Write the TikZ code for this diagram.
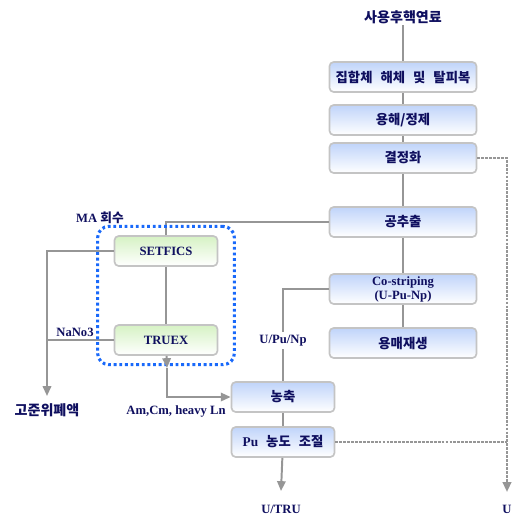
\documentclass[tikz,border=0pt]{standalone}
\usepackage{fontspec}
\setmainfont{Liberation Serif}
\newfontfamily\kr{Noto Sans CJK KR}
\usepackage{tikz}
\usetikzlibrary{arrows.meta, positioning, fit}
\definecolor{navytext}{RGB}{15,15,95}
\definecolor{boxblue}{RGB}{192,212,250}
\definecolor{boxgreen}{RGB}{214,242,196}
\definecolor{linegray}{RGB}{150,150,150}
\definecolor{bordergray}{RGB}{196,196,196}
\definecolor{dotblue}{RGB}{25,105,250}
\newcommand{\gap}{\hspace{0.6em}}
\tikzset{
  bxB/.style={draw=bordergray, top color=boxblue, bottom color=white, rounded corners=3pt,
              minimum width=#1, minimum height=0.75cm, align=center, inner sep=1pt,
              text=navytext, font=\kr\fontsize{9.5}{10}\selectfont\bfseries, line width=1.2pt},
  bxG/.style={draw=bordergray, top color=boxgreen, bottom color=white, rounded corners=3pt,
              minimum width=#1, minimum height=0.75cm, align=center,
              text=navytext, font=\fontsize{9}{10}\selectfont\bfseries, line width=1.2pt},
  lbK/.style={text=navytext, font=\kr\fontsize{10}{11}\selectfont\bfseries, inner sep=1pt},
  lbL/.style={text=navytext, font=\fontsize{9}{10}\selectfont\bfseries, inner sep=1pt},
  ln/.style={draw=linegray, line width=1.4pt},
  arr/.style={ln, -{Triangle[length=7pt, width=6pt]}},
}

\begin{document}
\begin{tikzpicture}[x=0.025cm, y=-0.025cm,
      dln/.style={draw=linegray, line width=1.6pt, dash pattern=on 2pt off 0.8pt},
      grp/.style={draw=dotblue, line width=2.2pt, dash pattern=on 2pt off 2pt,
                  rounded corners=8pt, inner xsep=0.4cm, inner ysep=0.22cm}]
    \useasboundingbox (0,0) rectangle (520,515);

    % ── MAIN LINE ───────────────────────────────────────────
    \node[lbK] (fuel) at (403,17) {사용후핵연료};
    \node[bxB=3.675cm] (dis)  at (403,77)  {집합체\gap 해체\gap 및\gap 탈피복};
    \node[bxB=3.675cm] (dsv)  at (403,120) {용해/정제};
    \node[bxB=3.675cm] (cry)  at (403,158) {결정화};
    \node[bxB=3.675cm] (coex) at (403,222) {공추출};
    \node[bxB=3.675cm, font=\fontsize{9}{10}\selectfont\bfseries]
         (cost) at (403,289) {Co-striping\\(U-Pu-Np)};
    \node[bxB=3.675cm] (solv) at (403,343) {용매재생};
    \draw[ln] (fuel)--(dis)--(dsv)--(cry)--(coex)--(cost)--(solv);

    % ── MA RECOVERY ─────────────────────────────────────────
    \node[bxG=2.575cm] (setf) at (166,251) {SETFICS};
    \node[bxG=2.575cm] (trux) at (166,340) {TRUEX};
    \node[lbL, anchor=base] (ma) at (100,222) {MA {\kr 회수}};
    \node[lbK] (hlw) at (47,410) {고준위폐액};
    \node[lbL] (nano) at (75,332) {NaNo3};
    \node[lbL] (amcm) at (176,411) {Am,Cm, heavy Ln};
    \coordinate (hlwin) at (47,396);
    \coordinate (tmark) at (167,368);
    \draw[ln] (coex.west) -| (setf.north);
    \draw[ln] (setf) -- (trux);
    \draw[arr] (setf.west) -| (hlwin);
    \draw[ln] (trux.west) -- (trux.west -| hlwin);
    \node[grp, fit=(setf)(trux)] (magrp) {};

    % ── U/TRU ───────────────────────────────────────────────
    \node[bxB=2.575cm] (conc) at (283,397) {농축};
    \node[bxB=2.575cm] (puad) at (283,442) {\fontsize{9.5}{10}\selectfont\rmfamily\bfseries Pu\gap{\kr 농도\gap 조절}};
    \node[lbL] (utru) at (281,509) {U/TRU};
    \node[lbL] (uout) at (507,509) {U};
    \coordinate (utruin) at (281,491);
    \coordinate (uin) at (507,492);
    \draw[arr] (trux) -- (tmark);
    \draw[arr] (tmark) |- (conc.west);
    \draw[ln] (cost.west) -| node[pos=0.78, lbL, fill=white, inner sep=2pt] (upunp) {U/Pu/Np} (conc.north);
    \draw[ln] (conc) -- (puad);
    \draw[arr] (puad) -- (utruin);
    \draw[dln, -{Triangle[length=7pt, width=6pt]}] (cry.east) -| (uin);
    \draw[dln] (puad.east) -- (puad.east -| uin);
\end{tikzpicture}
\end{document}
